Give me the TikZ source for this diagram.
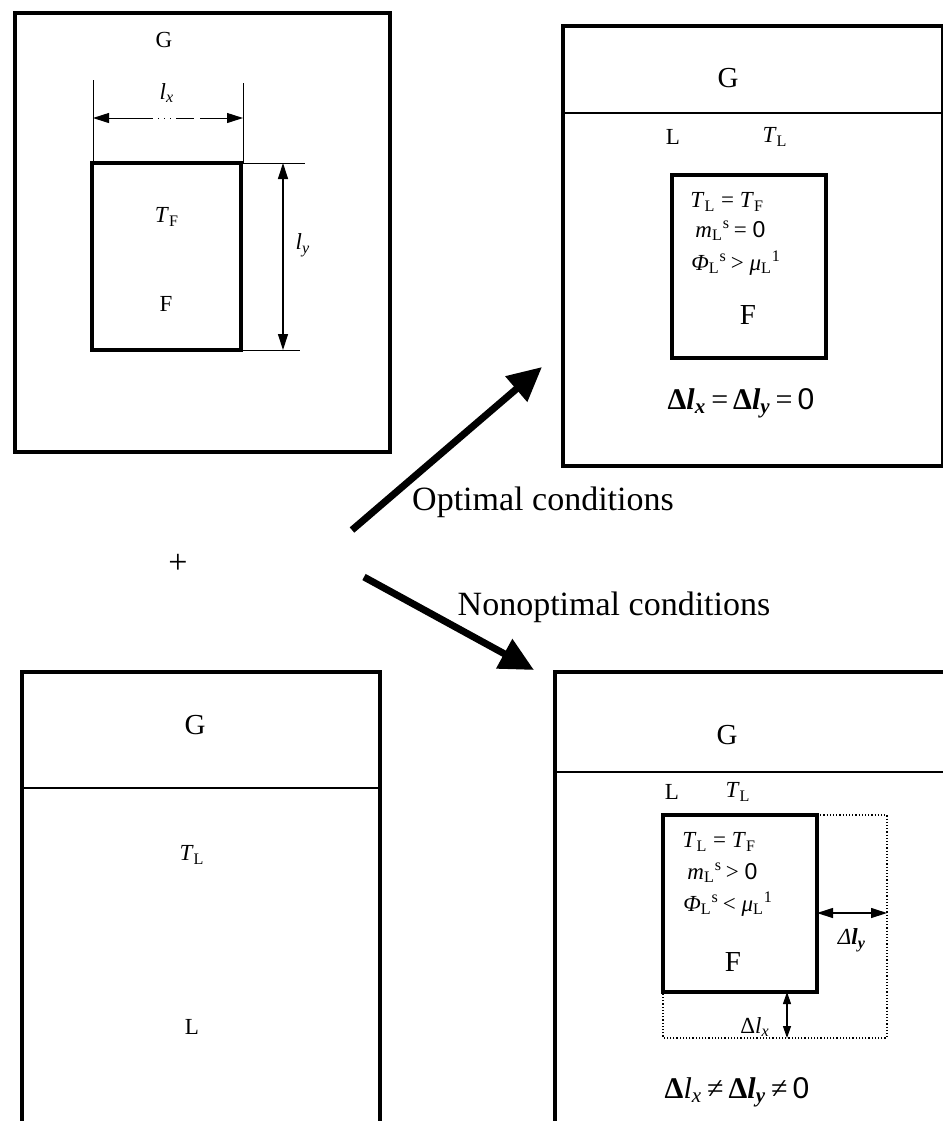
\documentclass[tikz,border=0pt]{standalone}
\usepackage{fontspec}
\setmainfont{Liberation Serif}
\newfontfamily\arialfont{Liberation Sans}
\usetikzlibrary{arrows.meta}

\newcommand{\tsub}[2]{\textit{#1}\textsubscript{#2}}
\newcommand{\boldl}[1]{\textbf{\textit{l}}\textsubscript{\textbf{\textit{#1}}}}

\begin{document}
\begin{tikzpicture}[x=0.5pt,y=-0.5pt,
    box/.style={line width=1.8pt},
    fbox/.style={line width=2pt},
    sep/.style={line width=0.6pt},
    ext/.style={line width=0.5pt},
    dots/.style={line width=0.6pt,densely dotted},
    dim/.style={line width=0.6pt,{Triangle[length=8pt,width=5pt]}-{Triangle[length=8pt,width=5pt]}},
    bigarrow/.style={line width=3.5pt,-{Triangle[length=17pt,width=16pt]}},
    lab/.style={inner sep=0pt,font=\fontsize{11.5}{14}\selectfont},
    glab/.style={inner sep=0pt,font=\fontsize{14.5}{17}\selectfont},
    cond/.style={inner sep=0pt,anchor=west,font=\fontsize{11.5}{13}\selectfont},
    deq/.style={inner sep=0pt,font=\fontsize{15}{18}\selectfont},
    txt/.style={inner sep=0pt,font=\fontsize{17}{20}\selectfont}]

    \useasboundingbox (0,0) rectangle (943,1121);

    % Start: F in G
    \draw[box] (15,13) rectangle (390,452);
    \node[lab] (gA) at (164,40) {G};
    \draw[fbox] (92,163) rectangle (241,350);
    \node[lab] (tfA) at (167,217) {\tsub{T}{F}};
    \node[lab] (fA) at (166,304) {F};

    % Dimensions lx, ly
    \coordinate (lxL) at (93,118);
    \coordinate (lxM) at (152,118);
    \coordinate (lxR) at (243,118);
    \draw[ext] (93,80) -- (93,163);
    \draw[ext] (243,83) -- (243,163);
    \draw[ext,{Triangle[length=8pt,width=5pt]}-] (lxL) -- (lxM);
    \draw[ext,dash pattern=on 0.6pt off 2.4pt on 0.6pt off 2.4pt on 0.6pt off 2.4pt on 0.6pt off 2.4pt on 9pt off 3pt on 40pt,-{Triangle[length=8pt,width=5pt]}] (lxM) -- (lxR);
    \node[lab] (lx) at (167,93) {\textit{l}\textsubscript{\textit{x}}};
    \coordinate (lyT) at (283,163);
    \coordinate (lyB) at (283,350);
    \draw[ext] (241,163) -- (305,163);
    \draw[ext] (241,350) -- (300,350);
    \draw[dim] (lyT) -- (lyB);
    \node[lab] (ly) at (303,245) {\textit{l}\textsubscript{\textit{y}}};

    % Start: G over L
    \draw[box] (22,1125) -- (22,672) -- (380,672) -- (380,1125);
    \draw[sep] (22,788) -- (380,788);
    \node[glab] (gB) at (195,725) {G};
    \node[lab] (tlB) at (192,855) {\tsub{T}{L}};
    \node[lab] (lB) at (192,1027) {L};

    \node[inner sep=0pt,font=\fontsize{17}{20}\selectfont] (plus) at (178,564) {+};

    % Arrows and conditions
    \coordinate (optS) at (352,530);
    \coordinate (optE) at (542,367);
    \coordinate (nonS) at (364,577);
    \coordinate (nonE) at (534,670);
    \draw[bigarrow] (optS) -- (optE);
    \draw[bigarrow] (nonS) -- (nonE);
    \node[txt] (opt) at (543,502) {Optimal conditions};
    \node[txt] (non) at (614,607) {Nonoptimal conditions};

    % Optimal result
    \draw[box] (945,26) -- (563,26) -- (563,466) -- (945,466);
    \draw[box] (943,26) -- (943,466);
    \draw[sep] (563,113) -- (943,113);
    \node[glab] (gC) at (728,78) {G};
    \node[lab] (lC) at (673,137) {L};
    \node[lab] (tlC) at (775,137) {\tsub{T}{L}};
    \draw[fbox] (672,175) rectangle (826,358);
    \node[cond] (c1C) at (690,202) {\tsub{T}{L} = \tsub{T}{F}};
    \node[cond] (c2C) at (695,231) {\textit{m}\textsubscript{L}\textsuperscript{s}\,= {\arialfont 0}};
    \node[cond] (c3C) at (691,263) {\textit{Φ}\textsubscript{L}\textsuperscript{s}\,> \textit{μ}\textsubscript{L}\textsuperscript{1}};
    \node[glab] (fC) at (748,315) {F};
    \node[deq] (eqC) at (741,403) {\textbf{Δ}\boldl{x}\,=\,\textbf{Δ}\boldl{y}\,=\,{\arialfont 0}};

    % Nonoptimal result
    \draw[box] (945,672) -- (555,672) -- (555,1125);
    \draw[sep] (555,772) -- (943,772);
    \node[glab] (gD) at (727,735) {G};
    \node[lab] (lD) at (672,792) {L};
    \node[lab] (tlD) at (738,792) {\tsub{T}{L}};
    \draw[fbox] (663,815) rectangle (817,992);
    \node[cond] (c1D) at (682,842) {\tsub{T}{L} = \tsub{T}{F}};
    \node[cond] (c2D) at (687,873) {\textit{m}\textsubscript{L}\textsuperscript{s}\,> {\arialfont 0}};
    \node[cond] (c3D) at (683,904) {\textit{Φ}\textsubscript{L}\textsuperscript{s}\,< \textit{μ}\textsubscript{L}\textsuperscript{1}};
    \node[glab] (fD) at (733,962) {F};
    \draw[dots] (817,815) -- (887,815) -- (887,1038) -- (663,1038) -- (663,992);
    \coordinate (dyL) at (817,913);
    \coordinate (dyR) at (887,913);
    \draw[dim] (dyL) -- (dyR);
    \node[lab] (dly) at (852,940) {\textit{Δ}\boldl{y}};
    \coordinate (dxT) at (787,992);
    \coordinate (dxB) at (787,1038);
    \draw[line width=0.6pt,{Triangle[length=6pt,width=4pt]}-{Triangle[length=6pt,width=4pt]}] (dxT) -- (dxB);
    \node[lab] (dlx) at (755,1027) {Δ\textit{l}\textsubscript{\textit{x}}};
    \node[deq] (eqD) at (737,1092) {\textbf{Δ}\textit{l}\textsubscript{\textit{x}}\,≠\,\textbf{Δ}\boldl{y}\,≠\,{\arialfont 0}};

\end{tikzpicture}
\end{document}
